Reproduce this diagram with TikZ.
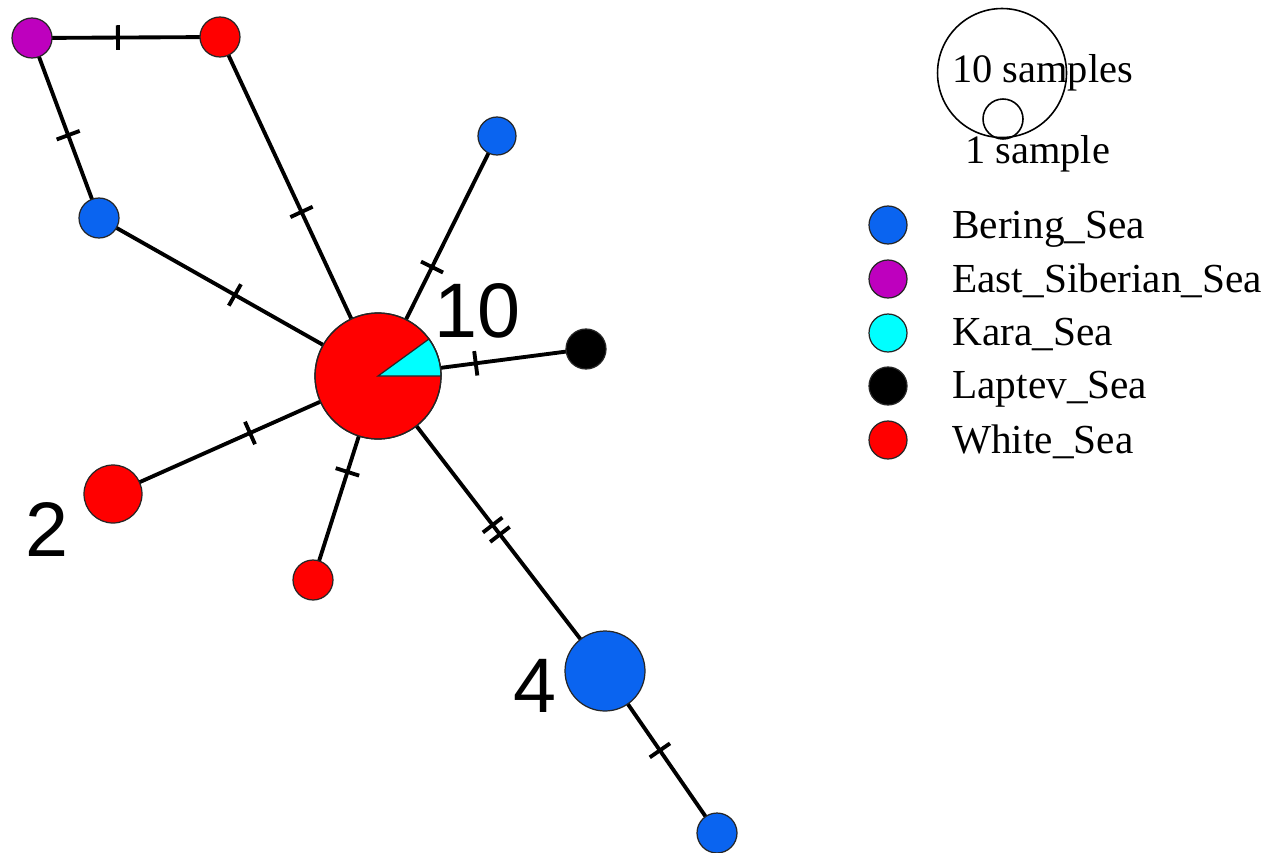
\documentclass[tikz,border=0pt]{standalone}
\usepackage{fontspec}
\setmainfont{Liberation Serif}
\setsansfont{Liberation Sans}
\usetikzlibrary{backgrounds}
\definecolor{bering}{RGB}{10,100,240}
\definecolor{esib}{RGB}{190,0,190}
\definecolor{kara}{RGB}{0,255,255}
\definecolor{whitesea}{RGB}{255,0,0}
\tikzset{
 hap/.style={circle, draw=black!85, line width=0.7pt, inner sep=0pt, minimum size=#1},
 link/.style={line width=2.2pt, black},
 mut/.style={sloped, fill=black, inner sep=0pt, minimum width=2.2pt, minimum height=14pt, draw=none},
 bignum/.style={font=\sffamily\fontsize{44}{50}\selectfont, inner sep=0pt, anchor=base west},
 legtext/.style={font=\fontsize{23.5}{27}\selectfont, inner sep=0pt, anchor=base west},
 sizetext/.style={font=\fontsize{23}{27}\selectfont, inner sep=0pt, anchor=base west},
 legcirc/.style={circle, draw=black, line width=0.9pt, inner sep=0pt, minimum size=#1},
}
\begin{document}
\begin{tikzpicture}[x=0.02cm, y=-0.02cm]
\begin{scope}[on background layer]
\fill[white] (0,0) rectangle (1266,852);
\end{scope}
\useasboundingbox (0,0) rectangle (1266,852);

% haplotype nodes
\node[hap=2.52cm, fill=whitesea] (c) at (378,376) {};
\fill[kara] (c.center) -- ++(0:1.26cm) arc[start angle=0, end angle=36, radius=1.26cm] -- cycle;
\draw[black!85, line width=0.7pt] (c.center) -- ++(0:1.26cm) arc[start angle=0, end angle=36, radius=1.26cm] -- cycle;
\draw[black!85, line width=0.7pt] (c.center) circle[radius=1.26cm];

\node[hap=0.8cm, fill=esib] (p) at (32,38) {};
\node[hap=0.8cm, fill=whitesea] (rt) at (220,37) {};
\node[hap=0.8cm, fill=bering] (bl) at (99,218) {};
\node[hap=0.76cm, fill=bering] (bt) at (497,136) {};
\node[hap=0.8cm, fill=black] (k) at (586,349) {};
\node[hap=1.16cm, fill=whitesea] (r2) at (113,494) {};
\node[hap=0.8cm, fill=whitesea] (rs) at (313,580) {};
\node[hap=1.6cm, fill=bering] (b4) at (605,671) {};
\node[hap=0.8cm, fill=bering] (bb) at (717,833) {};

% connectors
\begin{scope}[on background layer]
\draw[link] (p.center) -- node[mut, pos=0.457] {} (rt.center);
\draw[link] (p.center) -- node[mut, pos=0.54] {} (bl.center);
\draw[link] (rt.center) -- node[mut, pos=0.516] {} (c.center);
\draw[link] (bl.center) -- node[mut, pos=0.487] {} (c.center);
\draw[link] (bt.center) -- node[mut, pos=0.546] {} (c.center);
\draw[link] (k.center) -- node[mut, pos=0.53] {} (c.center);
\draw[link] (r2.center) -- node[mut, pos=0.517] {} (c.center);
\draw[link] (rs.center) -- node[mut, pos=0.53] {} (c.center);
\draw[link] (c.center) -- node[mut, pos=0.505] {} node[mut, pos=0.537] {} (b4.center);
\draw[link] (b4.center) -- node[mut, pos=0.49] {} (bb.center);
\end{scope}

% frequency labels
\node[bignum] (n10) at (434,337) {10};
\node[bignum] (n2) at (25,556) {2};
\node[bignum] (n4) at (513,712) {4};

% legend
\node[legcirc=2.58cm] (l10) at (1002,73) {};
\node[legcirc=0.8cm] (l1) at (1003,119) {};
\node[sizetext] (t10) at (952,82) {10 samples};
\node[sizetext] (t1) at (965,163) {1 sample};

\node[hap=0.76cm, fill=bering] (lb) at (888,225) {};
\node[hap=0.76cm, fill=esib] (le) at (888,279) {};
\node[hap=0.76cm, fill=kara] (lk) at (888,333) {};
\node[hap=0.76cm, fill=black] (ll) at (888,386) {};
\node[hap=0.76cm, fill=whitesea] (lw) at (888,440) {};
\node[legtext] (tb) at (952,238) {Bering\_Sea};
\node[legtext] (te) at (952,292) {East\_Siberian\_Sea};
\node[legtext] (tk) at (952,345) {Kara\_Sea};
\node[legtext] (tl) at (952,398) {Laptev\_Sea};
\node[legtext] (tw) at (952,453) {White\_Sea};
\end{tikzpicture}
\end{document}
